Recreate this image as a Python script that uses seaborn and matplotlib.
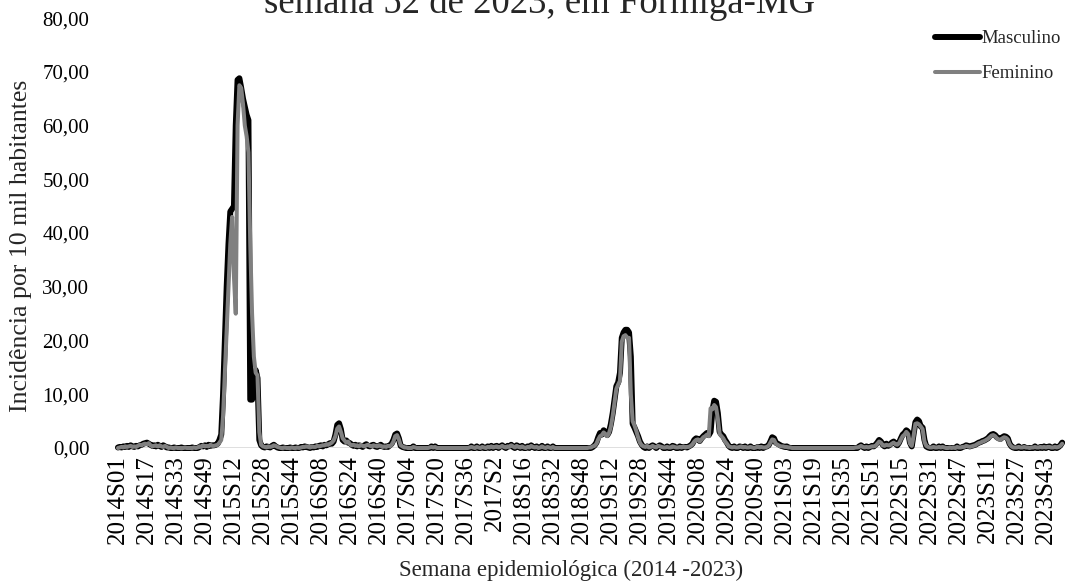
import numpy as np
import pandas as pd
import matplotlib
matplotlib.use("Agg")
import matplotlib.pyplot as plt
import seaborn as sns

# Incidência semanal por sexo (por 10 mil habitantes), 2014S01 .. 2023S52
masc_2014 = [0.1, 0.2, 0.1, 0.3, 0.2, 0.4, 0.2, 0.5, 0.3, 0.2,
             0.4, 0.3, 0.5, 0.6, 0.8, 0.9, 1.0, 0.8, 0.6, 0.4,
             0.5, 0.3, 0.6, 0.4, 0.2, 0.5, 0.3, 0.1, 0.1, 0.0,
             0.0, 0.1, 0.0, 0.0, 0.0, 0.1, 0.0, 0.0, 0.0, 0.0,
             0.0, 0.1, 0.0, 0.0, 0.0, 0.2, 0.4, 0.3, 0.5, 0.2,
             0.6, 0.4, 0.5]
fem_2014 = [0.0, 0.1, 0.2, 0.1, 0.3, 0.2, 0.3, 0.4, 0.2, 0.3,
            0.2, 0.4, 0.6, 0.5, 0.7, 0.8, 0.7, 0.9, 0.5, 0.3,
            0.4, 0.5, 0.3, 0.5, 0.3, 0.2, 0.4, 0.2, 0.0, 0.1,
            0.0, 0.0, 0.1, 0.0, 0.0, 0.0, 0.0, 0.1, 0.0, 0.0,
            0.0, 0.0, 0.1, 0.0, 0.1, 0.3, 0.2, 0.5, 0.3, 0.4,
            0.3, 0.6, 0.4]

masc_2015 = [0.5, 0.6, 0.8, 1.5, 2.5, 10.0, 20.0, 30.0, 38.0, 44.0,
             44.5, 45.0, 60.0, 68.5, 68.8, 67.0, 65.0, 63.5, 62.0, 61.0,
             9.0, 9.0, 11.0, 14.5, 13.0, 1.5, 0.5, 0.2, 0.1, 0.3,
             0.2, 0.1, 0.4, 0.6, 0.3, 0.1, 0.0, 0.0, 0.1, 0.0,
             0.0, 0.0, 0.1, 0.0, 0.0, 0.1, 0.0, 0.0, 0.2, 0.1,
             0.3, 0.2]
fem_2015 = [0.4, 0.5, 0.6, 1.0, 1.5, 6.0, 14.0, 22.0, 30.0, 38.0,
            43.0, 32.0, 25.0, 60.0, 67.5, 67.0, 64.0, 60.0, 58.0, 55.0,
            38.0, 25.0, 17.0, 14.0, 13.5, 3.0, 0.6, 0.3, 0.2, 0.1,
            0.3, 0.2, 0.3, 0.5, 0.4, 0.2, 0.1, 0.0, 0.0, 0.1,
            0.0, 0.0, 0.0, 0.1, 0.0, 0.0, 0.1, 0.0, 0.1, 0.2,
            0.2, 0.3]

masc_2016 = [0.1, 0.0, 0.2, 0.1, 0.3, 0.2, 0.4, 0.5, 0.3, 0.6,
             0.5, 0.7, 0.9, 0.8, 1.2, 2.5, 4.3, 4.6, 3.5, 1.5,
             1.2, 1.4, 1.0, 0.9, 0.6, 0.4, 0.6, 0.3, 0.5, 0.4,
             0.2, 0.5, 0.7, 0.4, 0.3, 0.5, 0.6, 0.3, 0.2, 0.4,
             0.6, 0.3, 0.2, 0.3, 0.2, 0.5, 0.8, 1.5, 2.5, 2.7,
             1.8, 0.4]
fem_2016 = [0.2, 0.1, 0.3, 0.2, 0.2, 0.4, 0.3, 0.4, 0.5, 0.5,
            0.7, 0.6, 0.8, 1.0, 1.4, 2.2, 3.6, 4.0, 3.0, 1.8,
            1.4, 1.0, 1.2, 0.7, 0.5, 0.6, 0.4, 0.5, 0.3, 0.6,
            0.4, 0.3, 0.5, 0.6, 0.4, 0.3, 0.5, 0.4, 0.3, 0.5,
            0.4, 0.2, 0.3, 0.2, 0.4, 0.3, 0.6, 1.2, 2.2, 2.4,
            1.6, 0.5]

masc_2017 = [0.2, 0.1, 0.0, 0.0, 0.0, 0.0, 0.3, 0.0, 0.0, 0.0,
             0.0, 0.0, 0.0, 0.0, 0.0, 0.0, 0.3, 0.0, 0.3, 0.0,
             0.0, 0.0, 0.0, 0.0, 0.0, 0.0, 0.0, 0.0, 0.0, 0.0,
             0.0, 0.0, 0.0, 0.0, 0.0, 0.0, 0.0, 0.0, 0.3, 0.0,
             0.0, 0.3, 0.0, 0.0, 0.3, 0.0, 0.0, 0.3, 0.0, 0.4,
             0.0, 0.3]
fem_2017 = [0.3, 0.1, 0.1, 0.0, 0.0, 0.0, 0.2, 0.1, 0.0, 0.0,
            0.0, 0.0, 0.0, 0.0, 0.0, 0.1, 0.2, 0.1, 0.2, 0.0,
            0.0, 0.0, 0.0, 0.0, 0.0, 0.0, 0.0, 0.0, 0.0, 0.0,
            0.0, 0.0, 0.0, 0.0, 0.0, 0.0, 0.0, 0.1, 0.2, 0.1,
            0.0, 0.2, 0.1, 0.0, 0.2, 0.1, 0.0, 0.2, 0.1, 0.3,
            0.1, 0.2]

masc_2018 = [0.4, 0.0, 0.3, 0.5, 0.2, 0.0, 0.4, 0.3, 0.6, 0.2,
             0.0, 0.5, 0.3, 0.0, 0.4, 0.0, 0.0, 0.3, 0.0, 0.5,
             0.2, 0.0, 0.3, 0.0, 0.0, 0.4, 0.0, 0.0, 0.3, 0.0,
             0.0, 0.3, 0.0, 0.0, 0.0, 0.0, 0.0, 0.0, 0.0, 0.0,
             0.0, 0.0, 0.0, 0.0, 0.0, 0.0, 0.0, 0.0, 0.0, 0.0,
             0.0, 0.0]
fem_2018 = [0.3, 0.1, 0.2, 0.4, 0.2, 0.1, 0.3, 0.2, 0.5, 0.3,
            0.1, 0.4, 0.2, 0.1, 0.3, 0.1, 0.0, 0.2, 0.1, 0.4,
            0.2, 0.1, 0.2, 0.0, 0.1, 0.3, 0.1, 0.0, 0.2, 0.1,
            0.0, 0.2, 0.0, 0.0, 0.0, 0.0, 0.0, 0.0, 0.0, 0.0,
            0.0, 0.0, 0.0, 0.0, 0.0, 0.0, 0.0, 0.0, 0.0, 0.0,
            0.0, 0.1]

masc_2019 = [0.0, 0.2, 0.5, 1.0, 2.0, 2.8, 2.5, 3.3, 3.0, 2.4,
             3.0, 4.5, 6.5, 9.0, 11.5, 12.2, 14.0, 20.5, 21.5, 22.0,
             22.0, 21.5, 17.0, 4.5, 3.8, 3.0, 2.2, 1.2, 0.6, 0.2,
             0.0, 0.3, 0.0, 0.3, 0.5, 0.3, 0.0, 0.3, 0.5, 0.3,
             0.0, 0.0, 0.3, 0.0, 0.0, 0.4, 0.3, 0.0, 0.0, 0.3,
             0.0, 0.2]
fem_2019 = [0.1, 0.3, 0.4, 0.8, 1.6, 2.2, 2.4, 2.9, 2.6, 2.2,
            2.8, 4.0, 6.0, 8.5, 11.0, 11.8, 12.5, 19.8, 20.8, 21.0,
            20.5, 20.5, 10.0, 5.0, 4.2, 3.2, 2.0, 1.0, 0.5, 0.3,
            0.2, 0.4, 0.1, 0.2, 0.4, 0.2, 0.1, 0.4, 0.3, 0.2,
            0.1, 0.1, 0.2, 0.1, 0.1, 0.3, 0.2, 0.1, 0.1, 0.2,
            0.1, 0.3]

masc_2020 = [0.2, 0.1, 0.3, 0.5, 0.8, 1.5, 1.8, 1.7, 1.3, 1.8,
             2.2, 2.5, 2.8, 2.4, 3.0, 7.0, 8.8, 8.6, 6.5, 3.0,
             2.5, 2.2, 1.5, 1.0, 0.4, 0.1, 0.0, 0.3, 0.0, 0.0,
             0.3, 0.2, 0.0, 0.3, 0.0, 0.0, 0.3, 0.0, 0.0, 0.0,
             0.2, 0.0, 0.3, 0.0, 0.2, 0.3, 0.5, 1.2, 2.0, 1.8,
             1.0, 0.8, 0.6]
fem_2020 = [0.1, 0.2, 0.2, 0.4, 0.7, 1.2, 1.5, 1.6, 1.2, 1.6,
            2.0, 2.2, 2.5, 2.2, 7.4, 7.2, 8.0, 7.6, 5.5, 2.6,
            2.2, 1.8, 1.2, 0.8, 0.3, 0.2, 0.1, 0.2, 0.1, 0.1,
            0.2, 0.3, 0.1, 0.2, 0.1, 0.1, 0.2, 0.1, 0.0, 0.1,
            0.3, 0.1, 0.2, 0.1, 0.1, 0.2, 0.4, 1.0, 1.6, 1.5,
            0.8, 0.6, 0.4]

masc_2021 = [0.4, 0.3, 0.2, 0.3, 0.1, 0.0, 0.0, 0.0, 0.0, 0.0,
             0.0, 0.0, 0.0, 0.0, 0.0, 0.0, 0.0, 0.0, 0.0, 0.0,
             0.0, 0.0, 0.0, 0.0, 0.0, 0.0, 0.0, 0.0, 0.0, 0.0,
             0.0, 0.0, 0.0, 0.0, 0.0, 0.0, 0.0, 0.0, 0.0, 0.0,
             0.0, 0.0, 0.0, 0.3, 0.5, 0.2, 0.0, 0.3, 0.0, 0.2,
             0.4, 0.3]
fem_2021 = [0.3, 0.3, 0.2, 0.2, 0.1, 0.1, 0.0, 0.0, 0.0, 0.0,
            0.0, 0.0, 0.0, 0.0, 0.0, 0.0, 0.0, 0.0, 0.0, 0.0,
            0.0, 0.0, 0.0, 0.0, 0.0, 0.0, 0.0, 0.0, 0.0, 0.0,
            0.0, 0.0, 0.0, 0.0, 0.0, 0.0, 0.0, 0.0, 0.0, 0.0,
            0.0, 0.1, 0.1, 0.2, 0.4, 0.2, 0.1, 0.2, 0.1, 0.2,
            0.3, 0.3]

masc_2022 = [0.6, 1.0, 1.5, 1.2, 0.6, 0.3, 0.8, 0.4, 0.6, 1.0,
             1.2, 0.8, 0.5, 1.0, 1.8, 2.5, 2.8, 3.3, 3.0, 1.0,
             0.3, 2.5, 4.8, 5.3, 5.0, 4.0, 3.8, 1.5, 0.3, 0.1,
             0.0, 0.0, 0.3, 0.0, 0.0, 0.3, 0.0, 0.3, 0.0, 0.0,
             0.0, 0.0, 0.0, 0.0, 0.0, 0.3, 0.0, 0.0, 0.2, 0.3,
             0.5, 0.4]
fem_2022 = [0.4, 0.8, 1.2, 1.0, 0.5, 0.4, 0.6, 0.5, 0.5, 0.8,
            1.0, 0.7, 0.6, 0.9, 1.6, 2.2, 2.5, 3.0, 2.6, 0.8,
            0.4, 2.2, 4.5, 4.6, 4.4, 4.0, 3.5, 1.2, 0.4, 0.2,
            0.1, 0.1, 0.2, 0.1, 0.1, 0.2, 0.1, 0.2, 0.1, 0.0,
            0.0, 0.1, 0.0, 0.1, 0.0, 0.2, 0.1, 0.1, 0.2, 0.2,
            0.4, 0.3]

masc_2023 = [0.3, 0.4, 0.5, 0.6, 0.8, 1.0, 1.1, 1.3, 1.4, 1.6,
             1.8, 2.2, 2.5, 2.6, 2.4, 2.0, 1.8, 1.7, 2.0, 2.2,
             2.1, 1.8, 0.8, 0.3, 0.1, 0.0, 0.0, 0.3, 0.0, 0.0,
             0.2, 0.0, 0.0, 0.0, 0.0, 0.0, 0.3, 0.0, 0.0, 0.2,
             0.0, 0.3, 0.0, 0.2, 0.3, 0.0, 0.0, 0.3, 0.0, 0.2,
             0.5, 1.0]
fem_2023 = [0.2, 0.3, 0.4, 0.5, 0.7, 0.9, 1.0, 1.2, 1.3, 1.5,
            1.7, 2.0, 2.3, 2.4, 2.2, 1.8, 1.6, 1.5, 1.8, 2.0,
            1.9, 1.6, 0.7, 0.3, 0.1, 0.1, 0.1, 0.2, 0.1, 0.1,
            0.2, 0.1, 0.1, 0.0, 0.1, 0.1, 0.2, 0.1, 0.1, 0.2,
            0.1, 0.2, 0.1, 0.2, 0.2, 0.1, 0.1, 0.2, 0.1, 0.2,
            0.4, 0.8]

tick_labels = ["2014S01", "2014S17", "2014S33", "2014S49", "2015S12", "2015S28",
               "2015S44", "2016S08", "2016S24", "2016S40", "2017S04", "2017S20",
               "2017S36", "2017S2", "2018S16", "2018S32", "2018S48", "2019S12",
               "2019S28", "2019S44", "2020S08", "2020S24", "2020S40", "2021S03",
               "2021S19", "2021S35", "2021S51", "2022S15", "2022S31", "2022S47",
               "2023S11", "2023S27", "2023S43"]
y_labels = ["0,00", "10,00", "20,00", "30,00", "40,00", "50,00", "60,00", "70,00", "80,00"]

masc = (masc_2014 + masc_2015 + masc_2016 + masc_2017 + masc_2018
        + masc_2019 + masc_2020 + masc_2021 + masc_2022 + masc_2023)
fem = (fem_2014 + fem_2015 + fem_2016 + fem_2017 + fem_2018
       + fem_2019 + fem_2020 + fem_2021 + fem_2022 + fem_2023)
assert len(masc) == len(fem) == 522, (len(masc), len(fem))

n = len(masc)
df = pd.DataFrame({
    "semana": list(range(n)) * 2,
    "incidencia": masc + fem,
    "sexo": ["Masculino"] * n + ["Feminino"] * n,
})

sns.set_theme(style="white")
plt.rcParams["font.family"] = ["Liberation Serif", "DejaVu Serif"]

fig = plt.figure(figsize=(10.65, 5.81), dpi=100)
ax = fig.add_axes([0.1099, 0.2289, 0.8883, 0.740])

ax.axhline(0, color="#d9d9d9", lw=1.2, zorder=0)
sns.lineplot(data=df[df["sexo"] == "Masculino"], x="semana", y="incidencia",
             color="black", lw=4.3, label="Masculino", ax=ax, clip_on=False,
             solid_joinstyle="round", solid_capstyle="round")
sns.lineplot(data=df[df["sexo"] == "Feminino"], x="semana", y="incidencia",
             color="#808080", lw=2.9, label="Feminino", ax=ax, clip_on=False,
             solid_joinstyle="round", solid_capstyle="round")

ax.set_xlim(-0.5, n - 0.5)
ax.set_ylim(0, 80)
ax.set_yticks(np.arange(0, 81, 10))
ax.set_yticklabels(y_labels)
ax.set_xticks(np.arange(0, n, 16))
ax.set_xticklabels(tick_labels, rotation=90)
ax.tick_params(length=0, colors="black")
ax.tick_params(axis="y", pad=20, labelsize=15)
ax.tick_params(axis="x", pad=5, labelsize=18)
ax.set_xlabel("")
ax.set_ylabel("")
sns.despine(ax=ax, left=True, bottom=True)

fig.text(21 / 1065, 1 - 246 / 581, "Incidência por 10 mil habitantes",
         rotation=90, ha="center", va="center", fontsize=18.5)
fig.text(571 / 1065, 1 - 570 / 581, "Semana epidemiológica (2014 -2023)",
         ha="center", va="center", fontsize=16.5)
fig.text(539 / 1065, 1 - 13 / 581, "semana 52 de 2023, em Formiga-MG",
         ha="center", va="baseline", fontsize=26.5)

ax.legend(loc="upper right", bbox_to_anchor=(1061 / 1065, 1 - 30 / 581),
          bbox_transform=fig.transFigure, frameon=False, fontsize=13.5,
          handlelength=2.4, handletextpad=0.1, labelspacing=0.95,
          borderaxespad=0, borderpad=0)

fig.savefig("out.png", dpi=100)
